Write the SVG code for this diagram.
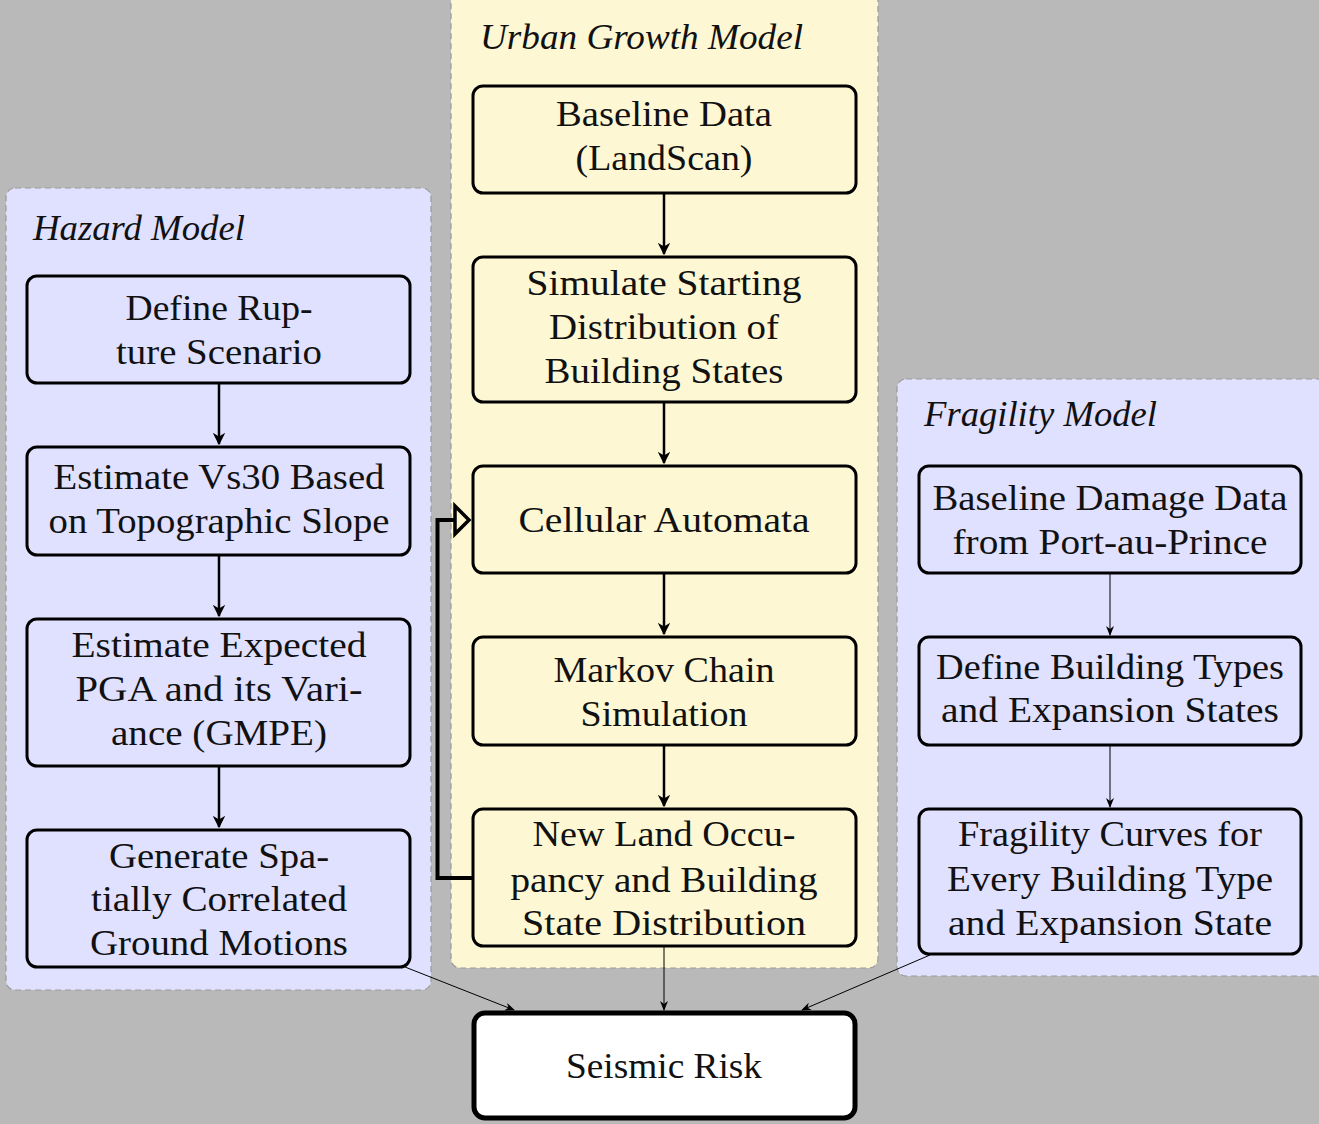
<svg xmlns="http://www.w3.org/2000/svg" width="1319" height="1124" viewBox="0 0 1319 1124">
<defs>
<style>
.panel{stroke:#9a9a9a;stroke-width:1.2;stroke-dasharray:6 4}
.hz{fill:#e0e0ff}
.ug{fill:#fdf7d3}
.nd{stroke:#000;stroke-width:3}
.t{font-family:'Liberation Serif','Times New Roman','DejaVu Serif',serif;font-size:36px;fill:#111;text-anchor:middle;dominant-baseline:central}
.ti{font-family:'Liberation Serif','Times New Roman','DejaVu Serif',serif;font-size:36px;font-style:italic;fill:#111;dominant-baseline:central}
.a{stroke:#000;stroke-width:2.5;fill:none}
.a1{stroke:#000;stroke-width:1;fill:none}
</style>
<marker id="ah" viewBox="0 0 10 10" refX="9" refY="5" markerWidth="5" markerHeight="5" markerUnits="strokeWidth" orient="auto"><path d="M0,0 L10,5 L0,10 L3,5 Z" fill="#000"/></marker>
<marker id="ah1" viewBox="0 0 10 10" refX="9" refY="5" markerWidth="10" markerHeight="10" markerUnits="strokeWidth" orient="auto"><path d="M0,1 L10,5 L0,9 L3,5 Z" fill="#000"/></marker>
</defs>
<rect width="1319" height="1124" fill="#b9b9b9"/>
<g id="panels">
<rect class="panel hz" x="6" y="188" width="425" height="802" rx="9"/>
<rect class="panel ug" x="451" y="-10" width="427" height="978" rx="9"/>
<rect class="panel hz" x="897" y="379" width="430" height="597" rx="9"/>
<text class="ti" x="33" y="228" textLength="212" lengthAdjust="spacingAndGlyphs" font-family="Liberation Serif, serif">Hazard Model</text>
<text class="ti" x="480" y="37" textLength="323" lengthAdjust="spacingAndGlyphs" font-family="Liberation Serif, serif">Urban Growth Model</text>
<text class="ti" x="924" y="414" textLength="233" lengthAdjust="spacingAndGlyphs" font-family="Liberation Serif, serif">Fragility Model</text>
</g>
<g font-family="Liberation Serif, serif">
<g id="h1"><rect class="nd hz" x="27" y="276" width="383" height="107" rx="10"/>
<text class="t" x="219" y="308" textLength="187" lengthAdjust="spacingAndGlyphs">Define Rup-</text>
<text class="t" x="219" y="352" textLength="206" lengthAdjust="spacingAndGlyphs">ture Scenario</text></g>
<g id="h2"><rect class="nd hz" x="27" y="447" width="383" height="108" rx="10"/>
<text class="t" x="219" y="477" textLength="331" lengthAdjust="spacingAndGlyphs">Estimate Vs30 Based</text>
<text class="t" x="219" y="521" textLength="341" lengthAdjust="spacingAndGlyphs">on Topographic Slope</text></g>
<g id="h3"><rect class="nd hz" x="27" y="619" width="383" height="147" rx="10"/>
<text class="t" x="219" y="645" textLength="295" lengthAdjust="spacingAndGlyphs">Estimate Expected</text>
<text class="t" x="219" y="689" textLength="287" lengthAdjust="spacingAndGlyphs">PGA and its Vari-</text>
<text class="t" x="219" y="733" textLength="216" lengthAdjust="spacingAndGlyphs">ance (GMPE)</text></g>
<g id="h4"><rect class="nd hz" x="27" y="830" width="383" height="137" rx="10"/>
<text class="t" x="219" y="856" textLength="220" lengthAdjust="spacingAndGlyphs">Generate Spa-</text>
<text class="t" x="219" y="899" textLength="256" lengthAdjust="spacingAndGlyphs">tially Correlated</text>
<text class="t" x="219" y="943" textLength="258" lengthAdjust="spacingAndGlyphs">Ground Motions</text></g>
<g id="u1"><rect class="nd ug" x="473" y="86" width="383" height="107" rx="10"/>
<text class="t" x="664" y="114" textLength="216" lengthAdjust="spacingAndGlyphs">Baseline Data</text>
<text class="t" x="664" y="158" textLength="177" lengthAdjust="spacingAndGlyphs">(LandScan)</text></g>
<g id="u2"><rect class="nd ug" x="473" y="257" width="383" height="145" rx="10"/>
<text class="t" x="664" y="283" textLength="275" lengthAdjust="spacingAndGlyphs">Simulate Starting</text>
<text class="t" x="664" y="327" textLength="230" lengthAdjust="spacingAndGlyphs">Distribution of</text>
<text class="t" x="664" y="371" textLength="239" lengthAdjust="spacingAndGlyphs">Building States</text></g>
<g id="u3"><rect class="nd ug" x="473" y="466" width="383" height="107" rx="10"/>
<text class="t" x="664" y="520" textLength="291" lengthAdjust="spacingAndGlyphs">Cellular Automata</text></g>
<g id="u4"><rect class="nd ug" x="473" y="637" width="383" height="108" rx="10"/>
<text class="t" x="664" y="670" textLength="221" lengthAdjust="spacingAndGlyphs">Markov Chain</text>
<text class="t" x="664" y="714" textLength="167" lengthAdjust="spacingAndGlyphs">Simulation</text></g>
<g id="u5"><rect class="nd ug" x="473" y="809" width="383" height="137" rx="10"/>
<text class="t" x="664" y="834" textLength="263" lengthAdjust="spacingAndGlyphs">New Land Occu-</text>
<text class="t" x="664" y="880" textLength="307" lengthAdjust="spacingAndGlyphs">pancy and Building</text>
<text class="t" x="664" y="923" textLength="284" lengthAdjust="spacingAndGlyphs">State Distribution</text></g>
<g id="f1"><rect class="nd hz" x="919" y="466" width="382" height="107" rx="10"/>
<text class="t" x="1110" y="498" textLength="355" lengthAdjust="spacingAndGlyphs">Baseline Damage Data</text>
<text class="t" x="1110" y="542" textLength="315" lengthAdjust="spacingAndGlyphs">from Port-au-Prince</text></g>
<g id="f2"><rect class="nd hz" x="919" y="637" width="382" height="108" rx="10"/>
<text class="t" x="1110" y="667" textLength="348" lengthAdjust="spacingAndGlyphs">Define Building Types</text>
<text class="t" x="1110" y="710" textLength="338" lengthAdjust="spacingAndGlyphs">and Expansion States</text></g>
<g id="f3"><rect class="nd hz" x="919" y="809" width="382" height="145" rx="10"/>
<text class="t" x="1110" y="834" textLength="304" lengthAdjust="spacingAndGlyphs">Fragility Curves for</text>
<text class="t" x="1110" y="879" textLength="326" lengthAdjust="spacingAndGlyphs">Every Building Type</text>
<text class="t" x="1110" y="923" textLength="324" lengthAdjust="spacingAndGlyphs">and Expansion State</text></g>
<g id="risk"><rect x="474" y="1013" width="381" height="105" rx="11" fill="#fff" stroke="#000" stroke-width="5"/>
<text class="t" x="664" y="1066" textLength="196" lengthAdjust="spacingAndGlyphs">Seismic Risk</text></g>
</g>
<g id="connectors">
<line class="a" x1="219" y1="383" x2="219" y2="444" marker-end="url(#ah)"/>
<line class="a" x1="219" y1="555" x2="219" y2="616" marker-end="url(#ah)"/>
<line class="a" x1="219" y1="766" x2="219" y2="827" marker-end="url(#ah)"/>
<line class="a" x1="664" y1="193" x2="664" y2="254" marker-end="url(#ah)"/>
<line class="a" x1="664" y1="402" x2="664" y2="463" marker-end="url(#ah)"/>
<line class="a" x1="664" y1="573" x2="664" y2="634" marker-end="url(#ah)"/>
<line class="a" x1="664" y1="745" x2="664" y2="806" marker-end="url(#ah)"/>
<line class="a1" x1="1110" y1="573" x2="1110" y2="635" marker-end="url(#ah1)"/>
<line class="a1" x1="1110" y1="745" x2="1110" y2="807" marker-end="url(#ah1)"/>
<line class="a1" x1="405" y1="967" x2="514" y2="1010" marker-end="url(#ah1)"/>
<line class="a1" x1="664" y1="946" x2="664" y2="1010" marker-end="url(#ah1)"/>
<line class="a1" x1="930" y1="955" x2="802" y2="1010" marker-end="url(#ah1)"/>
<path d="M473,878 H437.5 V520 H455" fill="none" stroke="#000" stroke-width="4"/>
<polygon points="455,506 469,520 455,534" fill="#fdf7d3" stroke="#000" stroke-width="3.5" stroke-linejoin="miter"/>
</g>
</svg>
